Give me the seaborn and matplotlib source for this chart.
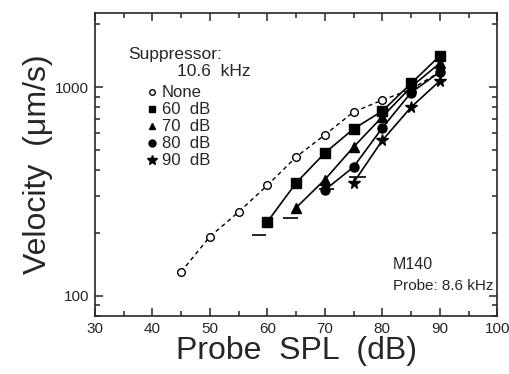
import pandas as pd
import matplotlib
matplotlib.use("Agg")
import matplotlib.pyplot as plt
from matplotlib.lines import Line2D
from matplotlib.ticker import LogLocator, MultipleLocator, NullFormatter, FixedLocator, FixedFormatter
import seaborn as sns

# values (probe level in dB SPL, velocity in um/s)
none_x = [45, 50, 55, 60, 65, 70, 75, 80, 85, 90]
none_y = [130, 192, 252, 338, 462, 590, 759, 866, 975, 1180]

db60_x = [60, 65, 70, 75, 80, 85, 90]
db60_y = [226, 347, 483, 630, 767, 1040, 1410]

db70_x = [65, 70, 75, 80, 85, 90]
db70_y = [264, 360, 516, 720, 1000, 1300]

db80_x = [70, 75, 80, 85, 90]
db80_y = [321, 414, 637, 940, 1180]

db90_x = [75, 80, 85, 90]
db90_y = [348, 555, 800, 1070]

# short horizontal marks under the lowest points
floor_start = [57.3, 62.8, 69.0, 74.2]
floor_end = [59.8, 65.4, 71.6, 77.2]
floor_level = [196, 236, 325, 371]

series_names = ["None", "60  dB", "70  dB", "80  dB", "90  dB"]
series_x = [none_x, db60_x, db70_x, db80_x, db90_x]
series_y = [none_y, db60_y, db70_y, db80_y, db90_y]

sns.set_theme(style="ticks")
plt.rcParams["font.family"] = ["Liberation Sans", "DejaVu Sans"]
plt.rcParams["axes.linewidth"] = 1.2

frames = []
for name, xs, ys in zip(series_names, series_x, series_y):
    frames.append(pd.DataFrame({"spl": xs, "velocity": ys, "suppressor": name}))
data = pd.concat(frames, ignore_index=True)

styles = {
    "None": dict(marker="o", mfc="white", ms=5.5, ls=(0, (3, 2.5)), lw=1.0),
    "60  dB": dict(marker="s", mfc="black", ms=6.5, ls="-", lw=1.2),
    "70  dB": dict(marker="^", mfc="black", ms=6.5, ls="-", lw=1.2),
    "80  dB": dict(marker="o", mfc="black", ms=6.5, ls="-", lw=1.2),
    "90  dB": dict(marker="*", mfc="black", ms=8.5, ls="-", lw=1.2),
}

fig = plt.figure(figsize=(5.1, 3.74), dpi=100)
ax = fig.add_axes([0.186, 0.155, 0.789, 0.81])

for name in series_names:
    st = styles[name]
    sns.lineplot(
        data=data[data["suppressor"] == name],
        x="spl",
        y="velocity",
        color="black",
        marker=st["marker"],
        markerfacecolor=st["mfc"],
        markeredgecolor="black",
        markeredgewidth=1.0,
        markersize=st["ms"],
        linestyle=st["ls"],
        linewidth=st["lw"],
        ax=ax,
    )

ax.hlines(floor_level, floor_start, floor_end, color="black", lw=1.2)

ax.set_yscale("log")
ax.set_xlim(30, 100)
ax.set_ylim(80, 2260)

ax.xaxis.set_major_locator(MultipleLocator(10))
ax.xaxis.set_minor_locator(MultipleLocator(5))
ax.yaxis.set_major_locator(FixedLocator([100, 1000]))
ax.yaxis.set_major_formatter(FixedFormatter(["100", "1000"]))
ax.yaxis.set_minor_locator(LogLocator(base=10, subs=range(2, 10)))
ax.yaxis.set_minor_formatter(NullFormatter())

ax.tick_params(which="both", direction="in", top=True, right=True, labelsize=11, width=1.1)
ax.tick_params(which="major", length=6, pad=4)
ax.tick_params(which="minor", length=3.5)

ax.set_xlabel("Probe  SPL  (dB)", fontsize=23, labelpad=0)
ax.set_ylabel("Velocity  (\u03bcm/s)", fontsize=23, labelpad=2)

ax.annotate("Suppressor:", xy=(0.083, 0.85), xycoords="axes fraction", fontsize=12.5)
ax.annotate("10.6  kHz", xy=(0.205, 0.793), xycoords="axes fraction", fontsize=12.5)

handles = [
    Line2D([], [], color="black", ls="none", marker=styles[n]["marker"],
           mfc=styles[n]["mfc"], mec="black", ms=styles[n]["ms"] - 1.5)
    for n in series_names
]
ax.legend(handles, series_names, loc="upper left", bbox_to_anchor=(0.1, 0.8),
          frameon=False, fontsize=12, handlelength=0.6, handletextpad=0.3,
          labelspacing=0.12, borderpad=0.2)

ax.text(0.74, 0.155, "M140", transform=ax.transAxes, fontsize=11.5)
ax.text(0.74, 0.085, "Probe: 8.6 kHz", transform=ax.transAxes, fontsize=11)

fig.savefig("out.png", dpi=100)
